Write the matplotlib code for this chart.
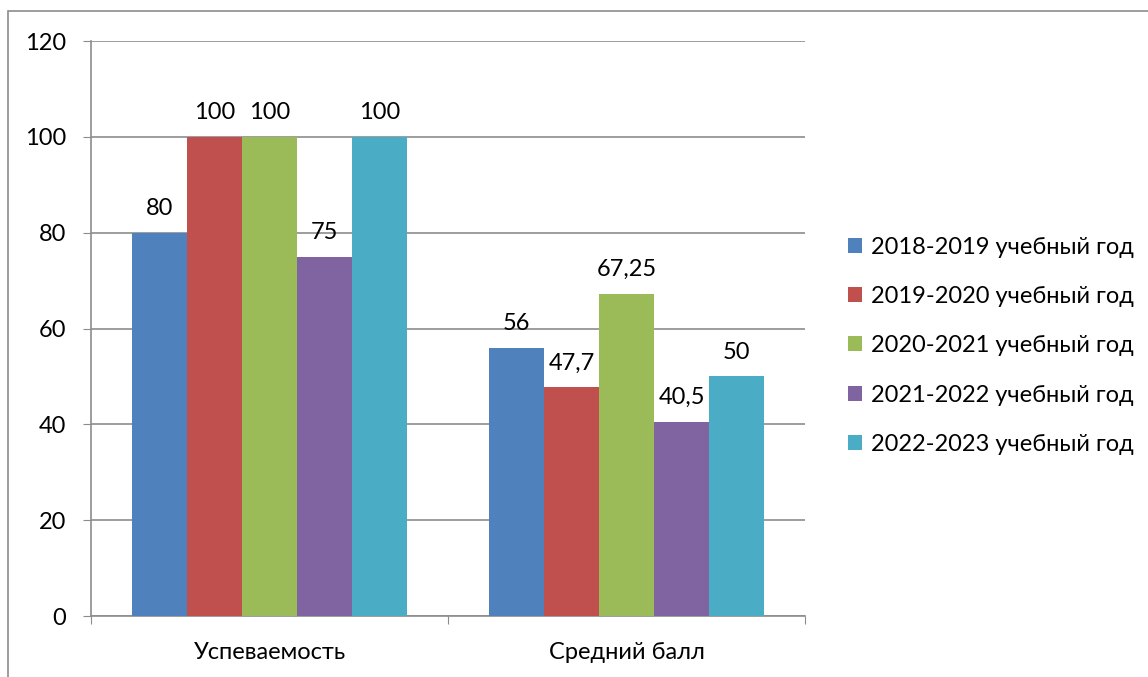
import matplotlib.pyplot as plt
from matplotlib.patches import Rectangle

plt.rcParams['font.family'] = ['Lato', 'Noto Sans', 'DejaVu Sans']

categories = ['Успеваемость', 'Средний балл']
years = ['2018-2019 учебный год', '2019-2020 учебный год', '2020-2021 учебный год',
         '2021-2022 учебный год', '2022-2023 учебный год']
values = [
    [80, 56],
    [100, 47.7],
    [100, 67.25],
    [75, 40.5],
    [100, 50],
]
colors = ['#4F81BD', '#C0504D', '#9BBB59', '#8064A2', '#4BACC6']
yticks = [0, 20, 40, 60, 80, 100, 120]

fs = 17
fig = plt.figure(figsize=(11.48, 6.77), dpi=100)
ax = fig.add_axes([0.0793, 0.0901, 0.622, 0.8493])

# outer chart border (partly cut by the image edge)
fig.patches.append(Rectangle((8 / 1148, -0.1), 1.2, 1.1 - 11 / 677, transform=fig.transFigure,
                             fill=False, edgecolor='#8c8c8c', linewidth=1.2))

grid_col = '#8c8c8c'
w = 0.154
x = list(range(len(categories)))
for i, (yr, vals, c) in enumerate(zip(years, values, colors)):
    pos = [xi + (i - 2) * w for xi in x]
    bars = ax.bar(pos, vals, width=w, color=c, label=yr, zorder=3)
    for b, v in zip(bars, vals):
        txt = str(v).replace('.', ',')
        ax.annotate(txt, (b.get_x() + b.get_width() / 2, v), xytext=(0, 10),
                    textcoords='offset points', ha='center', va='bottom', fontsize=fs)

ax.set_ylim(0, 120)
ax.set_xlim(-0.5, 1.5)
ax.set_yticks(yticks)
ax.tick_params(axis='y', labelsize=fs, length=6, color=grid_col, pad=12)
ax.yaxis.grid(True, color=grid_col, linewidth=1.2, zorder=0)

ax.set_xticks([-0.5, 0.5, 1.5])
ax.set_xticklabels([])
ax.set_xticks(x, minor=True)
ax.set_xticklabels(categories, minor=True, fontsize=fs)
ax.tick_params(axis='x', which='major', length=6, color=grid_col)
ax.tick_params(axis='x', which='minor', length=0, pad=19)

for s in ['top', 'right']:
    ax.spines[s].set_visible(False)
for s in ['left', 'bottom']:
    ax.spines[s].set_color(grid_col)
    ax.spines[s].set_linewidth(1.2)

ax.legend(loc='center left', bbox_to_anchor=(1.03, 0.47), frameon=False, fontsize=fs,
          handlelength=0.6, handleheight=0.6, handletextpad=0.4, labelspacing=1.2)

fig.savefig('out.png', dpi=100)
